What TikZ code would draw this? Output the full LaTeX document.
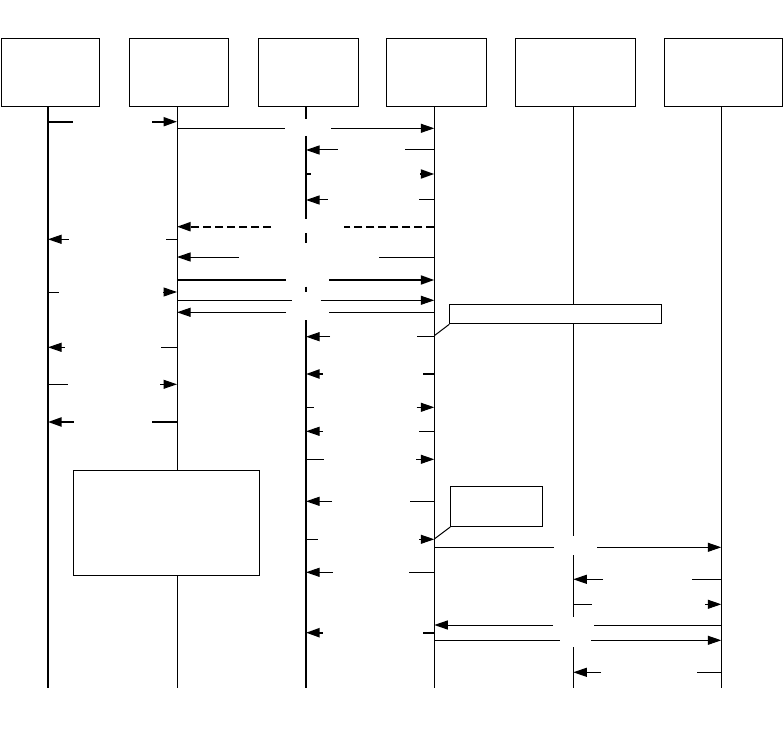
\documentclass[tikz,border=0pt]{standalone}
\usetikzlibrary{arrows.meta}
\tikzset{
  thinln/.style={line width=1pt},
  thickln/.style={line width=2pt},
  dashln/.style={line width=2pt, dash pattern=on 8pt off 4pt},
  tip/.style={-{Triangle[length=13.5pt,width=9pt]}},
  objbox/.style={draw, line width=1pt, fill=white, inner sep=0pt, anchor=north west},
  notebox/.style={draw, line width=1pt, fill=white, inner sep=0pt, anchor=north west},
}
% style, y, from x, to x, gap start (near from), gap end (near to)
\newcommand\seqmsg[6]{%
  \draw[#1] (#3,#2) -- (#5,#2);
  \draw[#1,tip] (#6,#2) -- (#4,#2);}
\begin{document}
\begin{tikzpicture}[x=1pt,y=-1pt]
\useasboundingbox (0,0) rectangle (784,738);
% lifeline x positions
\def\La{48}\def\Lb{177}\def\Lc{306}\def\Ld{434.3}\def\Le{573.3}\def\Lf{721.3}
% object boxes
\node[objbox, minimum width=98.8pt, minimum height=68pt] (b1) at (0.5,38.3) {};
\node[objbox, minimum width=99.6pt, minimum height=68pt] (b2) at (128.7,38.3) {};
\node[objbox, minimum width=99.4pt, minimum height=68pt] (b3) at (258.3,38.3) {};
\node[objbox, minimum width=99.4pt, minimum height=68pt] (b4) at (386.3,38.3) {};
\node[objbox, minimum width=120pt, minimum height=68pt] (b5) at (514.7,38.3) {};
\node[objbox, minimum width=118pt, minimum height=68pt] (b6) at (664.3,38.3) {};
% lifelines
\draw[thickln] (\La,106.3) -- (\La,688.3);
\draw[thinln] (\Lb,106.3) -- (\Lb,688.3);
\draw[thickln] (\Lc,106.3) -- (\Lc,119.3) (\Lc,136) -- (\Lc,219.3)
  (\Lc,233.3) -- (\Lc,242.7) (\Lc,286.7) -- (\Lc,292) (\Lc,320) -- (\Lc,688.3);
\draw[thinln] (\Ld,106.3) -- (\Ld,688.3);
\draw[thinln] (\Le,106.3) -- (\Le,535.7) (\Le,555) -- (\Le,617.3) (\Le,647) -- (\Le,688.3);
\draw[thinln] (\Lf,106.3) -- (\Lf,688.3);
% messages
\seqmsg{thickln}{121.7}{\La}{\Lb}{72.7}{152}
\seqmsg{thinln}{128.3}{\Lb}{\Ld}{285}{331}
\seqmsg{thinln}{150}{\Ld}{\Lc}{405}{337.7}
\seqmsg{thickln}{174}{\Lc}{\Ld}{311}{420}
\seqmsg{thinln}{200}{\Ld}{\Lc}{419}{327.7}
\seqmsg{dashln}{226.7}{\Ld}{\Lb}{343.7}{271}
\seqmsg{thinln}{239.3}{\Lb}{\La}{166}{68.7}
\seqmsg{thinln}{257}{\Ld}{\Lb}{379}{239}
\seqmsg{thickln}{280}{\Lb}{\Ld}{285.7}{329}
\seqmsg{thinln}{292}{\La}{\Lb}{59}{163}
\seqmsg{thinln}{300.3}{\Lb}{\Ld}{292}{320.7}
\seqmsg{thinln}{312.3}{\Ld}{\Lb}{329}{286}
\seqmsg{thinln}{336.7}{\Ld}{\Lc}{416.7}{330}
\seqmsg{thinln}{347.3}{\Lb}{\La}{161}{64.7}
\seqmsg{thickln}{374}{\Ld}{\Lc}{422.7}{322.7}
\seqmsg{thinln}{384.3}{\La}{\Lb}{68}{160}
\seqmsg{thinln}{407.3}{\Lc}{\Ld}{313.7}{416.7}
\seqmsg{thickln}{422}{\Lb}{\La}{152}{73.7}
\seqmsg{thinln}{431.3}{\Ld}{\Lc}{418.7}{322.7}
\seqmsg{thinln}{459.3}{\Lc}{\Ld}{324}{416}
\seqmsg{thinln}{501.3}{\Ld}{\Lc}{410}{332}
\seqmsg{thinln}{539.3}{\Lc}{\Ld}{318}{419.3}
\seqmsg{thinln}{572.3}{\Ld}{\Lc}{409}{332.7}
\seqmsg{thinln}{547.3}{\Ld}{\Lf}{554}{597}
\seqmsg{thinln}{579.3}{\Lf}{\Le}{692}{603}
\seqmsg{thinln}{604.3}{\Le}{\Lf}{592}{705}
\seqmsg{thinln}{625}{\Lf}{\Ld}{594}{553}
\seqmsg{thickln}{632.7}{\Ld}{\Lc}{422.7}{322.7}
\seqmsg{thinln}{640.3}{\Ld}{\Lf}{560}{591}
\seqmsg{thinln}{672.3}{\Lf}{\Le}{697}{601}
% notes and frame box
\node[notebox, minimum width=212pt, minimum height=19pt] (n1) at (449.3,304.3) {};
\coordinate (n1p) at (\Ld,335.7);
\draw[thinln] (n1p) -- (n1.south west);
\node[notebox, minimum width=92pt, minimum height=39.7pt] (n2) at (450.3,486.3) {};
\coordinate (n2p) at (\Ld,539);
\draw[thinln] (n2p) -- (n2.south west);
\node[notebox, minimum width=186.6pt, minimum height=105pt] (fr) at (72.7,470.3) {};
\end{tikzpicture}
\end{document}
